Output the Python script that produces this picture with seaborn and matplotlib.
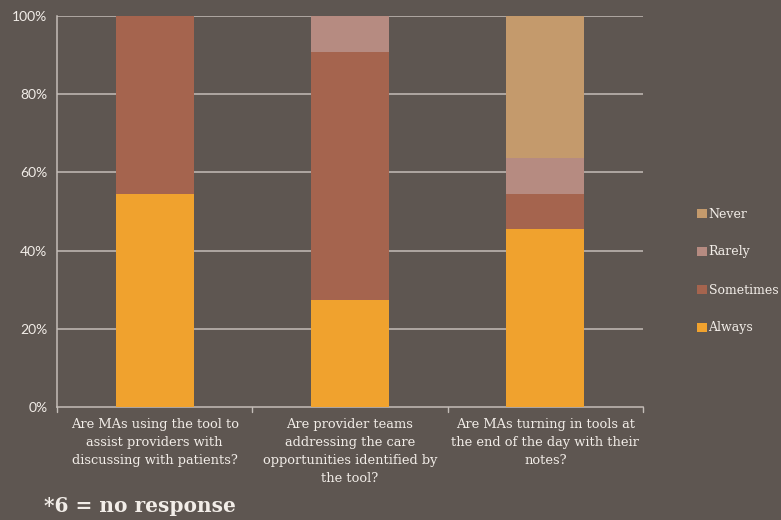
import matplotlib
matplotlib.use("Agg")
import matplotlib.pyplot as plt
import seaborn as sns
import pandas as pd
import numpy as np
from matplotlib.patches import Patch

categories = [
    "Are MAs using the tool to\nassist providers with\ndiscussing with patients?",
    "Are provider teams\naddressing the care\nopportunities identified by\nthe tool?",
    "Are MAs turning in tools at\nthe end of the day with their\nnotes?",
]
series = ["Always", "Sometimes", "Rarely", "Never"]
always = [54.5, 27.3, 45.5]
sometimes = [45.5, 63.6, 9.1]
rarely = [0.0, 9.1, 9.1]
never = [0.0, 0.0, 36.4]
yticks = [0, 20, 40, 60, 80, 100]
colors = {"Always": "#F0A22E", "Sometimes": "#A5644E", "Rarely": "#B68B81", "Never": "#C49A6C"}

bg = "#5E5651"
grid_c = "#C4BDB8"
txt_c = "#F2EDE8"

sns.set_theme(style="white")
plt.rcParams["font.family"] = ["DejaVu Sans"]

fig = plt.figure(figsize=(7.81, 5.2), dpi=100, facecolor=bg)
ax = fig.add_axes([57/781, 1-407/520, (643-57)/781, (407-16)/520])
ax.set_facecolor(bg)

df = pd.DataFrame({"cat": categories, "Always": always, "Sometimes": sometimes,
                   "Rarely": rarely, "Never": never})
bottom = np.zeros(len(categories))
for s in series:
    vals = np.array(df[s])
    sns.barplot(x=df["cat"], y=vals, order=categories, color=colors[s], bottom=bottom,
                width=0.4, ax=ax, zorder=3, linewidth=0, saturation=1)
    bottom = bottom + vals

ax.set_ylim(0, 100)
ax.set_xlim(-0.5, 2.5)
ax.set_yticks(yticks)
ax.set_yticklabels([f"{v}%" for v in yticks], fontsize=10, color=txt_c, family="Lato")
for v in yticks[1:]:
    ax.axhline(v, color=grid_c, lw=1.1, zorder=1)
ax.set_xlabel("")
ax.set_ylabel("")
ax.set_xticks([])
for lbl_i, c in enumerate(categories):
    ax.text(lbl_i, -2.9, c, ha="center", va="top", fontsize=9.4, color=txt_c,
            family="DejaVu Serif", linespacing=1.5, transform=ax.transData, clip_on=False)
for xb in [-0.5, 0.5, 1.5, 2.5]:
    ax.plot([xb, xb], [0, -1.3], color=grid_c, lw=1, clip_on=False)
ax.tick_params(axis="y", length=4, color=grid_c, width=1, pad=3)
for sp in ["top", "right"]:
    ax.spines[sp].set_visible(False)
for sp in ["left", "bottom"]:
    ax.spines[sp].set_color(grid_c)
    ax.spines[sp].set_linewidth(1.1)

handles = [Patch(facecolor=colors[s], edgecolor="none", label=s) for s in reversed(series)]
leg = fig.legend(handles=handles, loc="center left", bbox_to_anchor=(686/781, 1-271/520),
                 frameon=False, handlelength=0.75, handleheight=0.75, handletextpad=0.15,
                 labelspacing=2.0, prop={"family": "DejaVu Serif", "size": 9.0})
for t in leg.get_texts():
    t.set_color(txt_c)

fig.text(44/781, 1-506/520, "*6 = no response", fontsize=14.5, fontweight="bold",
         family="DejaVu Serif", color=txt_c, va="center", ha="left")

fig.savefig("out.png", dpi=100, facecolor=bg)
